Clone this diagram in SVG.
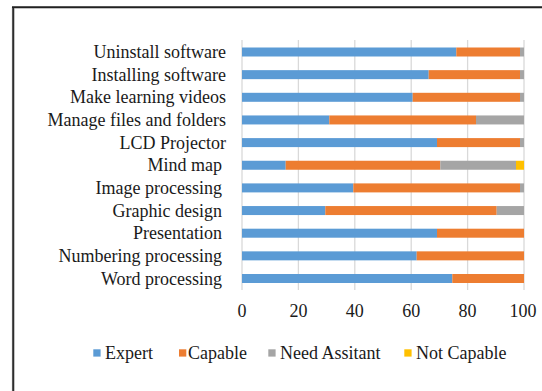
<svg xmlns="http://www.w3.org/2000/svg" width="542" height="391" viewBox="0 0 542 391">
<style>
text{font-family:"Liberation Serif","Times New Roman",serif;font-size:18px;fill:#1a1a1a}
.lab{text-anchor:end}
.tick{text-anchor:middle}
.grid{stroke:#d9d9d9;stroke-width:1.3}
.e{fill:#5B9BD5}.c{fill:#ED7D31}.n{fill:#A5A5A5}.x{fill:#FFC000}
</style>
<rect width="542" height="391" fill="#fff"/>
<g id="frame">
<line x1="13.2" y1="7.3" x2="13.2" y2="391" stroke="#888" stroke-width="2.6"/>
<line x1="12" y1="7.3" x2="542" y2="7.3" stroke="#888" stroke-width="2.6"/>
<line x1="13.2" y1="7.3" x2="13.2" y2="391" stroke="#222" stroke-width="1.4"/>
<line x1="12" y1="7.3" x2="542" y2="7.3" stroke="#222" stroke-width="1.4"/>
</g>
<g id="gridlines">
<line class="grid" x1="242" y1="40" x2="242" y2="290"/>
<line class="grid" x1="298.4" y1="40" x2="298.4" y2="290"/>
<line class="grid" x1="354.8" y1="40" x2="354.8" y2="290"/>
<line class="grid" x1="411.2" y1="40" x2="411.2" y2="290"/>
<line class="grid" x1="467.6" y1="40" x2="467.6" y2="290"/>
<line class="grid" x1="524" y1="40" x2="524" y2="290"/>
</g>
<g id="bars">
<g id="bar-uninstall"><rect class="e" x="242" y="47.5" width="214.3" height="9"/><rect class="c" x="456.3" y="47.5" width="63.7" height="9"/><rect class="n" x="520" y="47.5" width="4" height="9"/></g>
<g id="bar-installing"><rect class="e" x="242" y="70.15" width="186.7" height="9"/><rect class="c" x="428.7" y="70.15" width="91.3" height="9"/><rect class="n" x="520" y="70.15" width="4" height="9"/></g>
<g id="bar-videos"><rect class="e" x="242" y="92.8" width="170.7" height="9"/><rect class="c" x="412.7" y="92.8" width="107.3" height="9"/><rect class="n" x="520" y="92.8" width="4" height="9"/></g>
<g id="bar-files"><rect class="e" x="242" y="115.45" width="87.3" height="9"/><rect class="c" x="329.3" y="115.45" width="146.7" height="9"/><rect class="n" x="476" y="115.45" width="48" height="9"/></g>
<g id="bar-lcd"><rect class="e" x="242" y="138.1" width="195" height="9"/><rect class="c" x="437" y="138.1" width="83" height="9"/><rect class="n" x="520" y="138.1" width="4" height="9"/></g>
<g id="bar-mindmap"><rect class="e" x="242" y="160.75" width="43.7" height="9"/><rect class="c" x="285.7" y="160.75" width="154.6" height="9"/><rect class="n" x="440.3" y="160.75" width="75.7" height="9"/><rect class="x" x="516" y="160.75" width="8" height="9"/></g>
<g id="bar-image"><rect class="e" x="242" y="183.4" width="111.3" height="9"/><rect class="c" x="353.3" y="183.4" width="166.7" height="9"/><rect class="n" x="520" y="183.4" width="4" height="9"/></g>
<g id="bar-graphic"><rect class="e" x="242" y="206.05" width="83.3" height="9"/><rect class="c" x="325.3" y="206.05" width="171.4" height="9"/><rect class="n" x="496.7" y="206.05" width="27.3" height="9"/></g>
<g id="bar-presentation"><rect class="e" x="242" y="228.7" width="195" height="9"/><rect class="c" x="437" y="228.7" width="87" height="9"/></g>
<g id="bar-numbering"><rect class="e" x="242" y="251.35" width="174.7" height="9"/><rect class="c" x="416.7" y="251.35" width="107.3" height="9"/></g>
<g id="bar-word"><rect class="e" x="242" y="274" width="210.3" height="9"/><rect class="c" x="452.3" y="274" width="71.7" height="9"/></g>
</g>
<g id="category-labels">
<text class="lab" x="226" y="58">Uninstall software</text>
<text class="lab" x="226" y="80.65">Installing software</text>
<text class="lab" x="226" y="103.3">Make learning videos</text>
<text class="lab" x="226" y="125.95">Manage files and folders</text>
<text class="lab" x="226" y="148.6">LCD Projector</text>
<text class="lab" x="222" y="171.25">Mind map</text>
<text class="lab" x="222" y="193.9">Image processing</text>
<text class="lab" x="222" y="216.55">Graphic design</text>
<text class="lab" x="222" y="239.2">Presentation</text>
<text class="lab" x="222" y="261.85">Numbering processing</text>
<text class="lab" x="222" y="284.5">Word processing</text>
</g>
<g id="axis-labels">
<text class="tick" x="242" y="317">0</text>
<text class="tick" x="298.4" y="317">20</text>
<text class="tick" x="354.8" y="317">40</text>
<text class="tick" x="411.2" y="317">60</text>
<text class="tick" x="467.6" y="317">80</text>
<text class="tick" x="523" y="317">100</text>
</g>
<g id="legend">
<rect class="e" x="93.3" y="349.3" width="7.3" height="7.3"/><text x="105" y="359">Expert</text>
<rect class="c" x="179" y="349.3" width="7.3" height="7.3"/><text x="188" y="359">Capable</text>
<rect class="n" x="268.3" y="349.3" width="7.3" height="7.3"/><text x="280" y="359">Need Assitant</text>
<rect class="x" x="404.3" y="349.3" width="7.3" height="7.3"/><text x="416" y="359">Not Capable</text>
</g>
</svg>
